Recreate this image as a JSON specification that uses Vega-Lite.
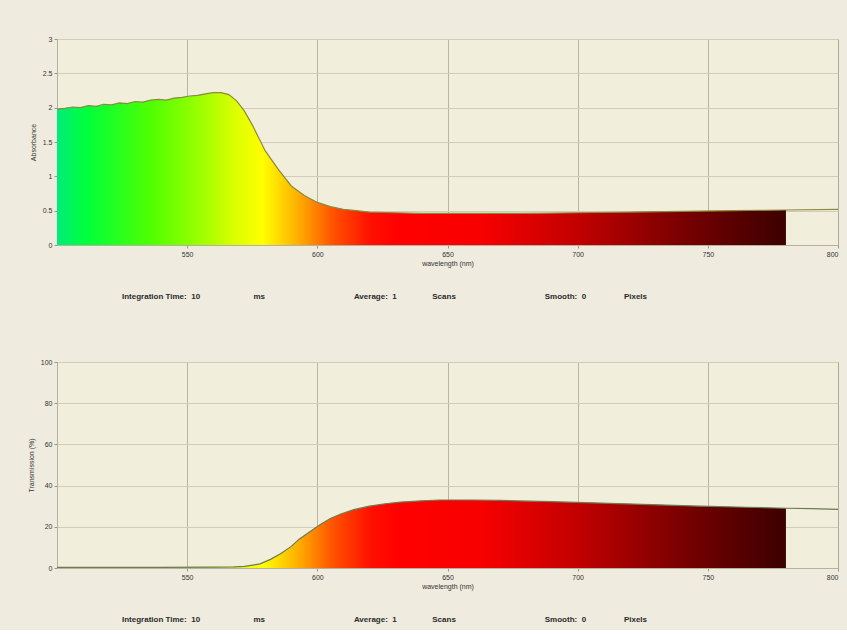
{
  "$schema": "https://vega.github.io/schema/vega-lite/v6.json",
  "background": "#efecdf",
  "padding": {"left": 26, "top": 34, "right": 9, "bottom": 5},
  "spacing": 55,
  "config": {
    "view": {"fill": "#f1efdc", "stroke": "#b4b29c"},
    "font": "Liberation Sans",
    "axis": {"labelFontSize": 7, "titleFontSize": 7, "titleFontWeight": "normal", "labelColor": "#333333", "titleColor": "#333333", "domainColor": "#b4b29c", "tickColor": "#9a9884", "tickSize": 3, "labelPadding": 2},
    "axisX": {"gridColor": "#a9a792", "gridOpacity": 0.8, "titlePadding": 2},
    "axisY": {"gridColor": "#cfcdb8", "titlePadding": 6},
    "title": {"fontSize": 8, "fontWeight": "bold", "color": "#2a2a2a", "font": "Liberation Sans"}
  },
  "datasets": {
    "abs": [
      {"nm": 500, "v": 1.98}, {"nm": 503, "v": 1.99}, {"nm": 506, "v": 2.01}, {"nm": 509, "v": 2.0}, {"nm": 512, "v": 2.03},
      {"nm": 515, "v": 2.02}, {"nm": 518, "v": 2.05}, {"nm": 521, "v": 2.04}, {"nm": 524, "v": 2.07}, {"nm": 527, "v": 2.06},
      {"nm": 530, "v": 2.09}, {"nm": 533, "v": 2.08}, {"nm": 536, "v": 2.11}, {"nm": 539, "v": 2.12}, {"nm": 542, "v": 2.11},
      {"nm": 545, "v": 2.14}, {"nm": 548, "v": 2.15}, {"nm": 551, "v": 2.17}, {"nm": 554, "v": 2.18}, {"nm": 557, "v": 2.2},
      {"nm": 560, "v": 2.22}, {"nm": 563, "v": 2.22}, {"nm": 566, "v": 2.19}, {"nm": 569, "v": 2.1}, {"nm": 572, "v": 1.95},
      {"nm": 575, "v": 1.75}, {"nm": 580, "v": 1.37}, {"nm": 585, "v": 1.1}, {"nm": 590, "v": 0.86}, {"nm": 595, "v": 0.72},
      {"nm": 600, "v": 0.62}, {"nm": 605, "v": 0.56}, {"nm": 610, "v": 0.52}, {"nm": 615, "v": 0.5}, {"nm": 620, "v": 0.48},
      {"nm": 630, "v": 0.47}, {"nm": 640, "v": 0.46}, {"nm": 660, "v": 0.46}, {"nm": 680, "v": 0.46}, {"nm": 700, "v": 0.47},
      {"nm": 720, "v": 0.48}, {"nm": 740, "v": 0.49}, {"nm": 760, "v": 0.5}, {"nm": 780, "v": 0.51}, {"nm": 800, "v": 0.52}
    ],
    "trans": [
      {"nm": 500, "v": 0.3}, {"nm": 520, "v": 0.3}, {"nm": 540, "v": 0.3}, {"nm": 560, "v": 0.4}, {"nm": 568, "v": 0.5},
      {"nm": 572, "v": 0.8}, {"nm": 578, "v": 2.0}, {"nm": 582, "v": 4.2}, {"nm": 586, "v": 7.0}, {"nm": 590, "v": 10.5},
      {"nm": 593, "v": 14.0}, {"nm": 597, "v": 17.5}, {"nm": 601, "v": 21.0}, {"nm": 605, "v": 24.0}, {"nm": 609, "v": 26.2},
      {"nm": 614, "v": 28.3}, {"nm": 620, "v": 30.0}, {"nm": 626, "v": 31.2}, {"nm": 632, "v": 32.0}, {"nm": 640, "v": 32.6},
      {"nm": 647, "v": 33.0}, {"nm": 660, "v": 33.0}, {"nm": 670, "v": 32.8}, {"nm": 690, "v": 32.2}, {"nm": 709, "v": 31.5},
      {"nm": 728, "v": 30.8}, {"nm": 747, "v": 30.0}, {"nm": 765, "v": 29.5}, {"nm": 780, "v": 29.0}, {"nm": 790, "v": 28.8},
      {"nm": 800, "v": 28.5}
    ]
  },
  "vconcat": [
    {
      "width": 781,
      "height": 206,
      "title": {"text": "Integration Time:\u00a0\u00a010\u00a0\u00a0\u00a0\u00a0\u00a0\u00a0\u00a0\u00a0\u00a0\u00a0\u00a0\u00a0\u00a0\u00a0\u00a0\u00a0\u00a0\u00a0\u00a0\u00a0\u00a0\u00a0\u00a0\u00a0ms\u00a0\u00a0\u00a0\u00a0\u00a0\u00a0\u00a0\u00a0\u00a0\u00a0\u00a0\u00a0\u00a0\u00a0\u00a0\u00a0\u00a0\u00a0\u00a0\u00a0\u00a0\u00a0\u00a0\u00a0\u00a0\u00a0\u00a0\u00a0\u00a0\u00a0\u00a0\u00a0\u00a0\u00a0\u00a0\u00a0\u00a0\u00a0\u00a0\u00a0Average:\u00a0\u00a01\u00a0\u00a0\u00a0\u00a0\u00a0\u00a0\u00a0\u00a0\u00a0\u00a0\u00a0\u00a0\u00a0\u00a0\u00a0\u00a0Scans\u00a0\u00a0\u00a0\u00a0\u00a0\u00a0\u00a0\u00a0\u00a0\u00a0\u00a0\u00a0\u00a0\u00a0\u00a0\u00a0\u00a0\u00a0\u00a0\u00a0\u00a0\u00a0\u00a0\u00a0\u00a0\u00a0\u00a0\u00a0\u00a0\u00a0\u00a0\u00a0\u00a0\u00a0\u00a0\u00a0\u00a0\u00a0\u00a0\u00a0Smooth:\u00a0\u00a00\u00a0\u00a0\u00a0\u00a0\u00a0\u00a0\u00a0\u00a0\u00a0\u00a0\u00a0\u00a0\u00a0\u00a0\u00a0\u00a0\u00a0Pixels", "orient": "bottom", "offset": 27, "anchor": "middle", "dx": -63},
      "data": {"name": "abs"},
      "encoding": {
        "x": {"field": "nm", "type": "quantitative", "scale": {"domain": [500, 800], "nice": false}, "axis": {"values": [550, 600, 650, 700, 750, 800], "title": "wavelength (nm)"}},
        "y": {"field": "v", "type": "quantitative", "scale": {"domain": [0, 3], "nice": false}, "axis": {"values": [0, 0.5, 1, 1.5, 2, 2.5, 3], "format": "~g", "title": "Absorbance"}}
      },
      "layer": [
        {
          "transform": [{"filter": "datum.nm <= 780"}],
          "mark": {"type": "area", "fill": {"gradient": "linear", "x1": 0, "y1": 0, "x2": 1, "y2": 0, "stops": [
            {"offset": 0, "color": "#00ec78"}, {"offset": 0.04, "color": "#00ff3c"}, {"offset": 0.13, "color": "#50ff00"},
            {"offset": 0.2, "color": "#a0ff00"}, {"offset": 0.245, "color": "#dcff00"}, {"offset": 0.282, "color": "#ffff00"},
            {"offset": 0.33, "color": "#ffb000"}, {"offset": 0.38, "color": "#ff5000"}, {"offset": 0.43, "color": "#ff1000"},
            {"offset": 0.47, "color": "#ff0000"}, {"offset": 0.58, "color": "#f80000"}, {"offset": 0.71, "color": "#c40000"},
            {"offset": 0.86, "color": "#780000"}, {"offset": 1, "color": "#3c0000"}]}}
        },
        {"mark": {"type": "line", "color": "#8a8a3c", "strokeWidth": 1.2}}
      ]
    },
    {
      "width": 781,
      "height": 206,
      "title": {"text": "Integration Time:\u00a0\u00a010\u00a0\u00a0\u00a0\u00a0\u00a0\u00a0\u00a0\u00a0\u00a0\u00a0\u00a0\u00a0\u00a0\u00a0\u00a0\u00a0\u00a0\u00a0\u00a0\u00a0\u00a0\u00a0\u00a0\u00a0ms\u00a0\u00a0\u00a0\u00a0\u00a0\u00a0\u00a0\u00a0\u00a0\u00a0\u00a0\u00a0\u00a0\u00a0\u00a0\u00a0\u00a0\u00a0\u00a0\u00a0\u00a0\u00a0\u00a0\u00a0\u00a0\u00a0\u00a0\u00a0\u00a0\u00a0\u00a0\u00a0\u00a0\u00a0\u00a0\u00a0\u00a0\u00a0\u00a0\u00a0Average:\u00a0\u00a01\u00a0\u00a0\u00a0\u00a0\u00a0\u00a0\u00a0\u00a0\u00a0\u00a0\u00a0\u00a0\u00a0\u00a0\u00a0\u00a0Scans\u00a0\u00a0\u00a0\u00a0\u00a0\u00a0\u00a0\u00a0\u00a0\u00a0\u00a0\u00a0\u00a0\u00a0\u00a0\u00a0\u00a0\u00a0\u00a0\u00a0\u00a0\u00a0\u00a0\u00a0\u00a0\u00a0\u00a0\u00a0\u00a0\u00a0\u00a0\u00a0\u00a0\u00a0\u00a0\u00a0\u00a0\u00a0\u00a0\u00a0Smooth:\u00a0\u00a00\u00a0\u00a0\u00a0\u00a0\u00a0\u00a0\u00a0\u00a0\u00a0\u00a0\u00a0\u00a0\u00a0\u00a0\u00a0\u00a0\u00a0Pixels", "orient": "bottom", "offset": 27, "anchor": "middle", "dx": -63},
      "data": {"name": "trans"},
      "encoding": {
        "x": {"field": "nm", "type": "quantitative", "scale": {"domain": [500, 800], "nice": false}, "axis": {"values": [550, 600, 650, 700, 750, 800], "title": "wavelength (nm)"}},
        "y": {"field": "v", "type": "quantitative", "scale": {"domain": [0, 100], "nice": false}, "axis": {"values": [0, 20, 40, 60, 80, 100], "title": "Transmission (%)"}}
      },
      "layer": [
        {
          "transform": [{"filter": "datum.nm <= 780"}],
          "mark": {"type": "area", "fill": {"gradient": "linear", "x1": 0, "y1": 0, "x2": 1, "y2": 0, "stops": [
            {"offset": 0, "color": "#00ec78"}, {"offset": 0.04, "color": "#00ff3c"}, {"offset": 0.13, "color": "#50ff00"},
            {"offset": 0.2, "color": "#a0ff00"}, {"offset": 0.245, "color": "#dcff00"}, {"offset": 0.282, "color": "#ffff00"},
            {"offset": 0.33, "color": "#ffb000"}, {"offset": 0.38, "color": "#ff5000"}, {"offset": 0.43, "color": "#ff1000"},
            {"offset": 0.47, "color": "#ff0000"}, {"offset": 0.58, "color": "#f80000"}, {"offset": 0.71, "color": "#c40000"},
            {"offset": 0.86, "color": "#780000"}, {"offset": 1, "color": "#3c0000"}]}}
        },
        {"mark": {"type": "line", "color": "#6e7a50", "strokeWidth": 1.2}}
      ]
    }
  ]
}
